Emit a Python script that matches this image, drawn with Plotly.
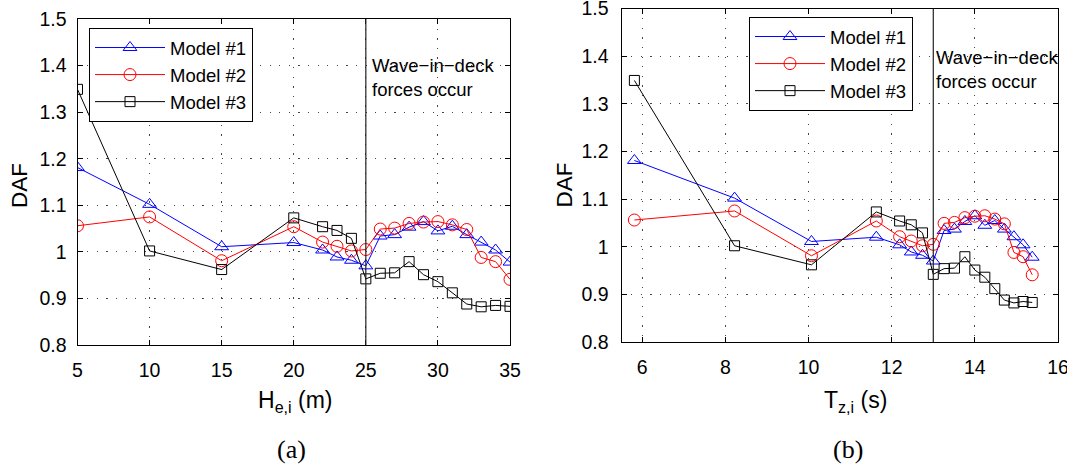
import plotly.graph_objects as go

W, H = 1067, 464

# Significant wave height (m) and zero-crossing period (s) of each sea state
he_m = [5, 10, 15, 20, 22, 23, 24, 25, 26, 27, 28, 29, 30, 31, 32, 33, 34, 35]
tz_s = [5.81, 8.22, 10.07, 11.63, 12.19, 12.47, 12.74, 13.00, 13.26, 13.51,
        13.76, 14.00, 14.24, 14.48, 14.71, 14.94, 15.16, 15.38]

# Dynamic amplification factor per model
daf_model1 = [1.181, 1.102, 1.011, 1.020, 1.004, 0.989, 0.982, 0.970, 1.034,
              1.037, 1.053, 1.065, 1.045, 1.055, 1.037, 1.021, 1.004, 0.978]
daf_model2 = [1.056, 1.075, 0.981, 1.054, 1.021, 1.012, 1.002, 1.005, 1.049,
              1.051, 1.061, 1.064, 1.065, 1.058, 1.048, 0.988, 0.979, 0.941]
daf_model3 = [1.349, 1.002, 0.962, 1.073, 1.054, 1.046, 1.029, 0.942, 0.954,
              0.955, 0.979, 0.951, 0.936, 0.912, 0.888, 0.882, 0.885, 0.883]

model_names = ["Model #1", "Model #2", "Model #3"]
model_values = [daf_model1, daf_model2, daf_model3]
model_colors = ["#0000ff", "#ff0000", "#000000"]
model_symbols = ["triangle-up-open", "circle-open", "square-open"]
model_sizes = [12, 12, 10]

# Onset of wave-in-deck loading
wid_he = 25
wid_tz = 13

def px(x):
    return x / W

def py(y):
    return 1 - y / H

fig = go.Figure()

panels = [
    (he_m, "x", "y", "legend"),
    (tz_s, "x2", "y2", "legend2"),
]
for xs, xa, ya, leg in panels:
    for name, vals, col, sym, sz in zip(model_names, model_values, model_colors,
                                        model_symbols, model_sizes):
        fig.add_trace(go.Scatter(
            x=xs, y=vals, name=name, mode="lines+markers",
            xaxis=xa, yaxis=ya, legend=leg,
            line=dict(color=col, width=1),
            marker=dict(symbol=sym, size=sz, color=col, line=dict(width=1, color=col)),
        ))

axis_common = dict(
    showline=True, linecolor="black", linewidth=1, mirror="ticks",
    ticks="inside", ticklen=5, tickwidth=1, tickcolor="black",
    showgrid=True, gridcolor="#444444", gridwidth=1, griddash="1.3px,8.3px",
    zeroline=False, automargin=False, ticklabeloverflow="allow",
    tickfont=dict(family="Liberation Sans, Arial", size=19.5, color="black"),
)

fig.update_layout(
    width=W, height=H,
    margin=dict(l=0, r=0, t=0, b=0, autoexpand=False),
    paper_bgcolor="white", plot_bgcolor="white",
    showlegend=True,
    xaxis=dict(domain=[px(77.5), px(510)], range=[5, 35], dtick=5, tick0=0,
               anchor="y", ticklabelstandoff=8, **axis_common),
    yaxis=dict(domain=[py(345), py(19)], range=[0.8, 1.5], dtick=0.1, tick0=0,
               anchor="x", ticklabelstandoff=6, **axis_common),
    xaxis2=dict(domain=[px(621.5), px(1058)], range=[5.5, 16], dtick=2, tick0=0,
                anchor="y2", ticklabelstandoff=8, **axis_common),
    yaxis2=dict(domain=[py(342), py(8.5)], range=[0.8, 1.5], dtick=0.1, tick0=0,
                anchor="x2", ticklabelstandoff=8, **axis_common),
)

legend_common = dict(
    xanchor="left", yanchor="top",
    bgcolor="white", bordercolor="black", borderwidth=1,
    font=dict(family="Liberation Sans, Arial", size=18.5, color="black"),
    itemwidth=70, tracegroupgap=0,
    entrywidth=178, entrywidthmode="pixels",
)
fig.update_layout(
    legend=dict(x=px(89), y=py(28), **legend_common),
    legend2=dict(x=px(749), y=py(17), **legend_common),
)

# Wave-in-deck threshold lines
fig.add_shape(type="line", xref="x", yref="y domain", x0=wid_he, x1=wid_he, y0=0, y1=1,
              line=dict(color="#222222", width=1.2))
fig.add_shape(type="line", xref="x2", yref="y2 domain", x0=wid_tz, x1=wid_tz, y0=0, y1=1,
              line=dict(color="#222222", width=1.2))

sans = "Liberation Sans, Arial"
serif = "Liberation Serif, Times New Roman"
note = "Wave\u2212in\u2212deck<br>forces occur"

annotations = [
    dict(x=px(370), y=py(77), text=note, xanchor="left", yanchor="middle", align="left",
         font=dict(family=sans, size=18.5)),
    dict(x=px(934), y=py(69), text=note, xanchor="left", yanchor="middle", align="left",
         font=dict(family=sans, size=18.5)),
    dict(x=px(19), y=py(186), text="DAF", textangle=-90, xanchor="center", yanchor="middle",
         font=dict(family=sans, size=22.5)),
    dict(x=px(563.5), y=py(185), text="DAF", textangle=-90, xanchor="center", yanchor="middle",
         font=dict(family=sans, size=22.5)),
    dict(x=px(295), y=py(401), text="H<sub>e,i</sub> (m)", xanchor="center", yanchor="middle",
         font=dict(family=sans, size=23)),
    dict(x=px(856), y=py(401), text="T<sub>z,i</sub> (s)", xanchor="center", yanchor="middle",
         font=dict(family=sans, size=23)),
    dict(x=px(291), y=py(449), text="(a)", xanchor="center", yanchor="middle",
         font=dict(family=serif, size=26)),
    dict(x=px(848), y=py(449), text="(b)", xanchor="center", yanchor="middle",
         font=dict(family=serif, size=26)),
]
for a in annotations:
    a.setdefault("xref", "paper")
    a.setdefault("yref", "paper")
    a["showarrow"] = False
    a["font"]["color"] = "black"
    fig.add_annotation(**a)

fig.write_html("out.html")
